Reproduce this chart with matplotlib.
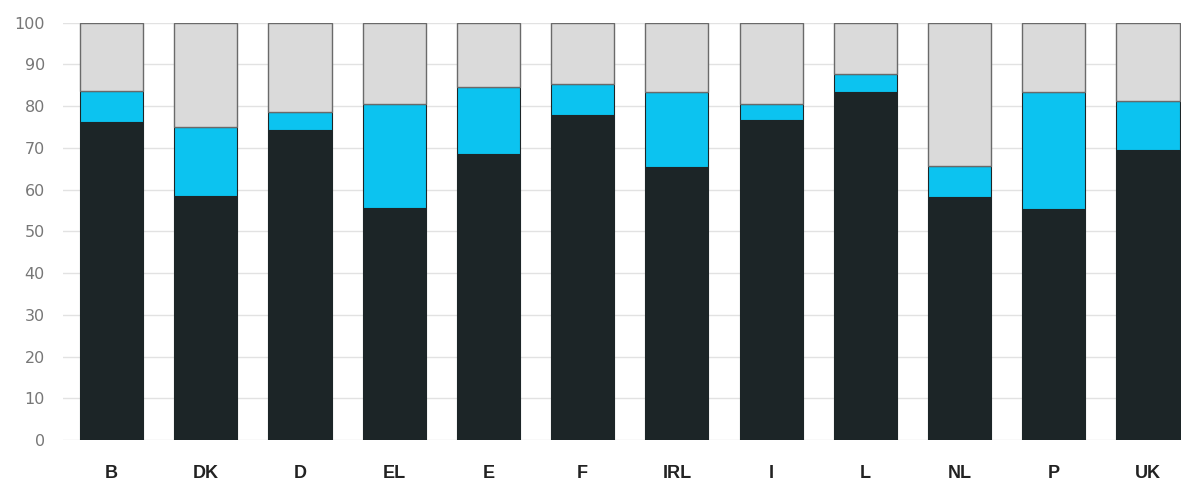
import numpy as np
import matplotlib.pyplot as plt

countries = ['B', 'DK', 'D', 'EL', 'E', 'F', 'IRL', 'I', 'L', 'NL', 'P', 'UK']
dark = [76.3, 58.5, 74.3, 55.5, 68.5, 77.9, 65.3, 76.7, 83.5, 58.3, 55.3, 69.5]
cyan_top = [83.7, 74.9, 78.5, 80.4, 84.7, 85.3, 83.5, 80.4, 87.7, 65.7, 83.5, 81.3]

dark = np.array(dark)
cyan = np.array(cyan_top) - dark
grey = 100 - np.array(cyan_top)

fig = plt.figure(figsize=(11.81, 4.87), dpi=100)
ax = fig.add_axes([0.0533, 0.0965, 0.9467, 0.857])

x = np.arange(len(countries))
w = 0.67
ax.bar(x, dark, w, color='#1c2527', edgecolor='#1c2527', linewidth=0.8, zorder=2)
ax.bar(x, cyan, w, bottom=dark, color='#0cc3f0', edgecolor='#1c2527', linewidth=0.8, zorder=2)
ax.bar(x, grey, w, bottom=dark + cyan, color='#dadada', edgecolor='#6a6a6a', linewidth=1.0, zorder=2)

ax.set_xlim(-0.515, 11.35)
ax.set_ylim(0, 100)
ax.set_yticks(range(0, 101, 10))
ax.set_xticks(x)
ax.set_xticklabels(countries, fontsize=13, fontweight='heavy', color='#222222', family='Liberation Sans')
ax.tick_params(axis='x', length=0, pad=18)
ax.tick_params(axis='y', length=0, pad=13, labelsize=11.5, labelcolor='#777777')
ax.grid(axis='y', color='#e2e2e2', linewidth=1, zorder=0)
for s in ax.spines.values():
    s.set_visible(False)

plt.savefig('out.png', dpi=100)
